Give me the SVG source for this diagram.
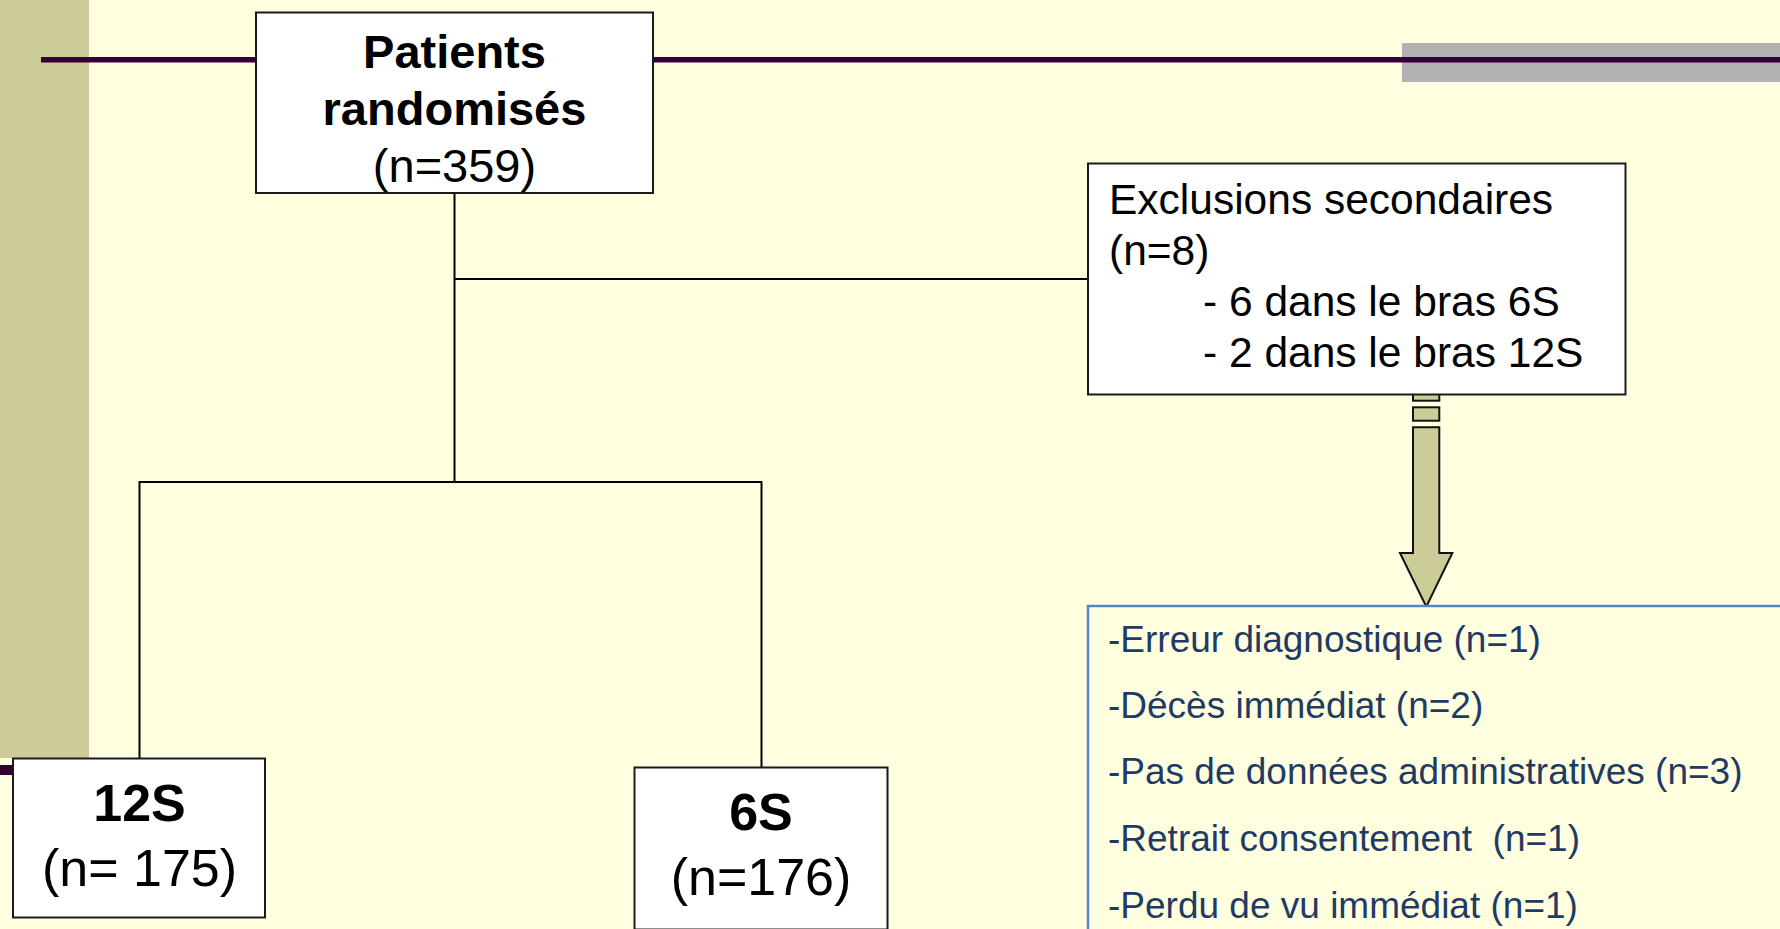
<svg xmlns="http://www.w3.org/2000/svg" width="1780" height="929" viewBox="0 0 1780 929">
<style>
.box{fill:#ffffff;stroke:#1a1a1a;stroke-width:2}
.t{font-family:"Liberation Sans",Arial,sans-serif;fill:#000}
.b{font-weight:bold}
.c{text-anchor:middle}
.conn{stroke:#000;stroke-width:2;fill:none}
.list{font-family:"Liberation Sans",Arial,sans-serif;font-size:37px;fill:#1f3b64}
</style>
<rect x="0" y="0" width="1780" height="929" fill="#ffffe0"/>
<rect x="0" y="0" width="89" height="758" fill="#cccc99"/>
<rect x="1402" y="43" width="378" height="39" fill="#b2b2b2"/>
<rect x="41" y="57" width="1739" height="5.5" fill="#330033"/>
<rect x="0" y="765" width="14" height="10" fill="#330033"/>

<g id="connectors">
<line class="conn" x1="454.5" y1="193" x2="454.5" y2="482"/>
<line class="conn" x1="454.5" y1="279" x2="1088" y2="279"/>
<polyline class="conn" points="139.5,758 139.5,482 761.5,482 761.5,767"/>
<g id="block-arrow" fill="#cccc99" stroke="#111" stroke-width="2">
<rect x="1413" y="388" width="26.3" height="12.7"/>
<rect x="1413" y="407.3" width="26.3" height="13.4"/>
<path d="M1413,427.3 H1439.3 V553 H1452.3 L1426.3,606.7 L1400,553 H1413 Z"/>
</g>
</g>

<g id="patients">
<rect class="box" x="256" y="12.5" width="397" height="180.5"/>
<text class="t b c" x="454.5" y="68" font-size="47">Patients</text>
<text class="t b c" x="454.5" y="125" font-size="47">randomisés</text>
<text class="t c" x="454.5" y="182" font-size="47">(n=359)</text>
</g>

<g id="exclusions">
<rect class="box" x="1088" y="163.5" width="537.5" height="231"/>
<text class="t" x="1109" y="214" font-size="42.5">Exclusions secondaires</text>
<text class="t" x="1109" y="265" font-size="42.5">(n=8)</text>
<text class="t" x="1203" y="316" font-size="42.5">- 6 dans le bras 6S</text>
<text class="t" x="1203" y="367" font-size="42.5">- 2 dans le bras 12S</text>
</g>

<g id="arm12s">
<rect class="box" x="13" y="758.5" width="252" height="159"/>
<text class="t b c" x="139.5" y="821" font-size="52">12S</text>
<text class="t c" x="139.5" y="886" font-size="52">(n= 175)</text>
</g>

<g id="arm6s">
<rect class="box" x="634.5" y="767.5" width="253" height="162"/>
<text class="t b c" x="761" y="830" font-size="52">6S</text>
<text class="t c" x="761" y="895" font-size="52">(n=176)</text>
</g>

<g id="details">
<rect x="1088" y="606" width="720" height="400" fill="#ffffe0" stroke="#5585c4" stroke-width="2.5"/>
<text class="list" x="1108" y="652">-Erreur diagnostique (n=1)</text>
<text class="list" x="1108" y="717.5">-Décès immédiat (n=2)</text>
<text class="list" x="1108" y="784">-Pas de données administratives (n=3)</text>
<text class="list" x="1108" y="851" xml:space="preserve">-Retrait consentement  (n=1)</text>
<text class="list" x="1108" y="918">-Perdu de vu immédiat (n=1)</text>
</g>
</svg>
